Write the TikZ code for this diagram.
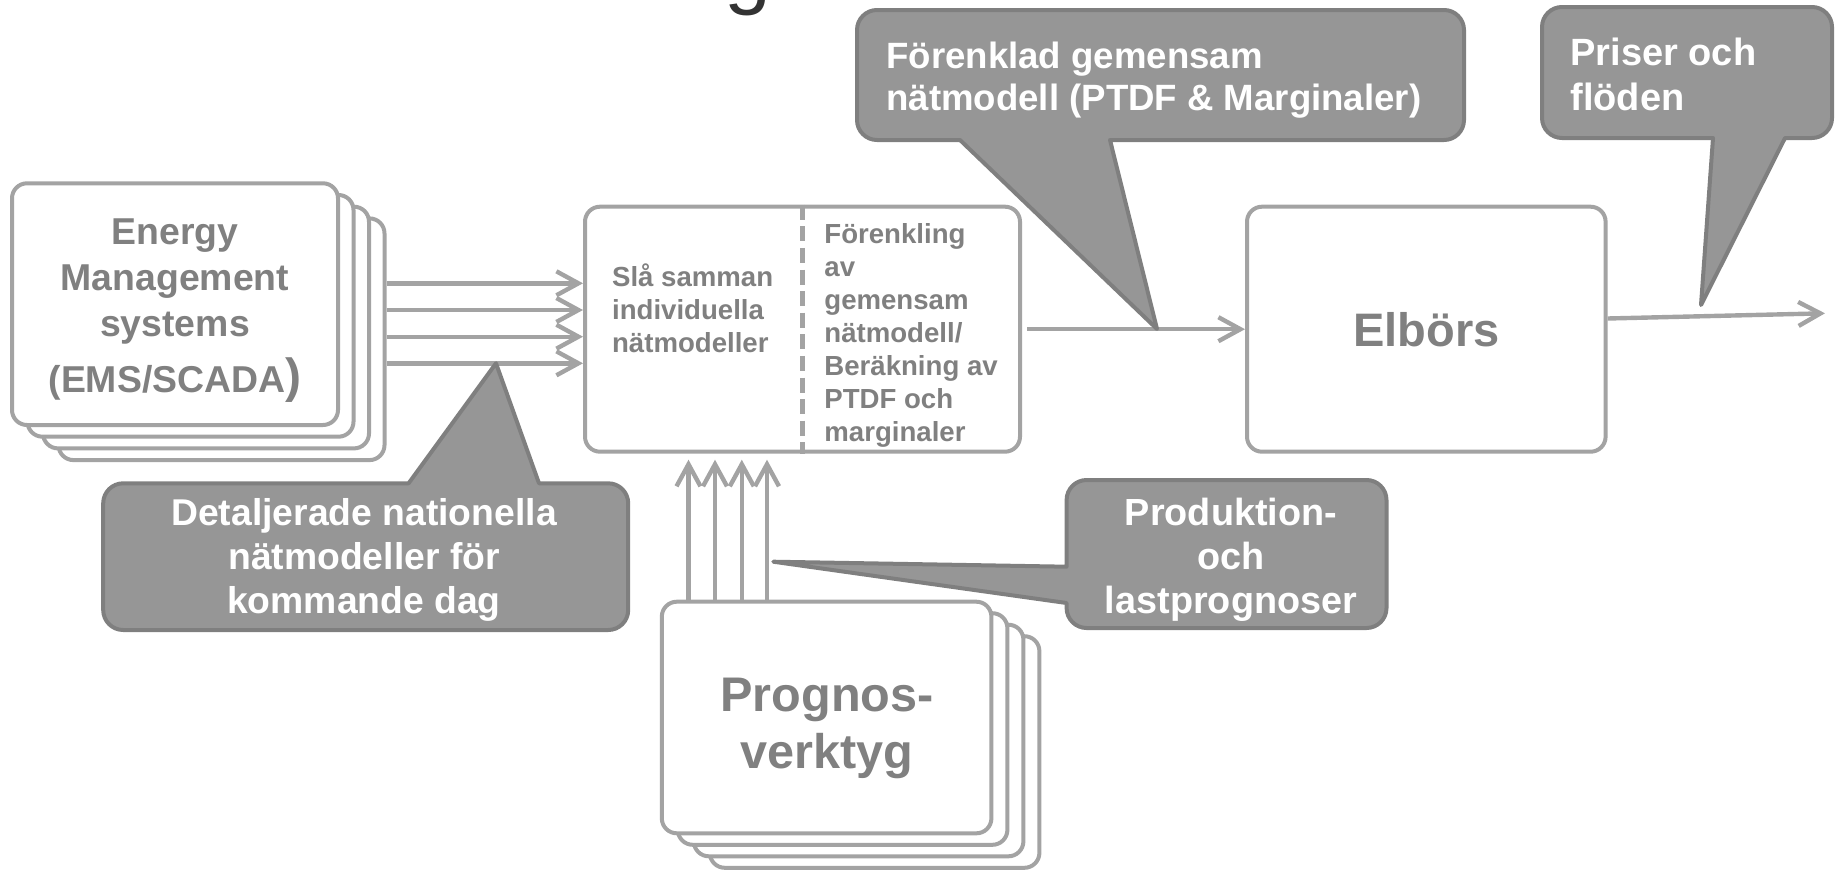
\documentclass[tikz,border=0pt]{standalone}
\usepackage{fontspec}
\setmainfont{Liberation Sans}
\usetikzlibrary{arrows.meta}
\definecolor{boxgray}{RGB}{163,163,163}
\definecolor{txtgray}{RGB}{128,128,128}
\definecolor{callfill}{RGB}{150,150,150}
\definecolor{callline}{RGB}{127,127,127}
\definecolor{titleblack}{RGB}{51,51,51}
\newcommand\setfs[2]{\fontsize{#1}{#2}\selectfont}
\begin{document}
\begin{tikzpicture}[x=0.5pt,y=-0.5pt,
  box/.style={draw=boxgray, line width=2pt, rounded corners=7.5pt, fill=white, inner sep=0pt},
  sz/.style 2 args={minimum width=#1*0.5pt, minimum height=#2*0.5pt},
  arr/.style={draw=boxgray, line width=2.2pt, -{Straight Barb[length=11pt,width=12pt]}},
  call/.style={fill=callfill, draw=callline, line width=2pt, line join=round},
  btxt/.style={text=txtgray, inner sep=0pt},
  ctxt/.style={text=white, inner sep=0pt},
]
\useasboundingbox (0,0) rectangle (1837,873);

% heading (only its descender falls inside the page)
\node[text=titleblack, font=\setfs{42}{50}, anchor=base west, inner sep=0pt] (title) at (724,-1.5) {g};

% stacked EMS/SCADA boxes
\foreach \k in {3,2,1}
  \node[box, sz={326}{241.7}] (ems\k) at ({175+15.5*\k},{304.15+11.7*\k}) {};
\node[box, sz={326}{241.7}] (ems) at (175,304.15) {};
\node[btxt, font=\bfseries\setfs{18.7}{23}, align=center] (emstext) at (175,308.8)
  {\strut Energy\\Management\\systems\\[5pt](EMS/SCADA{\setfs{24}{23})}\strut};

% merging / simplification box
\node[box, sz={435}{245}] (mid) at (802.5,329.2) {};
\draw[draw=boxgray, line width=2.3pt, dash pattern=on 7.5pt off 3.3pt] (mid.north) -- (mid.south);
\node[btxt, font=\bfseries\setfs{13.8}{16.5}, align=left, anchor=west] (midL) at (611.7,313.1)
  {\strut Slå samman\\individuella\\nätmodeller\strut};
\node[btxt, font=\bfseries\setfs{13.8}{16.5}, align=left, anchor=west] (midR) at (824,335.7)
  {\strut Förenkling\\av\\gemensam\\nätmodell/\\Beräkning av\\PTDF och\\marginaler\strut};

% power exchange
\node[box, sz={358.6}{245}] (elb) at (1426.3,329.2) {};
\node[btxt, font=\bfseries\setfs{23.5}{28}, anchor=base] (elbtext) at (1426.5,346.7) {Elbörs};

% stacked forecasting tools
\foreach \k in {3,2,1}
  \node[box, sz={329.6}{231.6}] (prog\k) at ({826.6+16*\k},{717.5+11.5*\k}) {};
\node[box, sz={329.6}{231.6}] (prog) at (826.6,717.5) {};
\node[btxt, font=\bfseries\setfs{24.3}{28.3}, align=center] (progtext) at (827,728.5)
  {\strut Prognos-\\verktyg\strut};

% data flows
\foreach \y in {283.3,310,336.7,363.3}
  \draw[arr] (ems3.east |- 0,\y) -- (mid.west |- 0,\y);
\coordinate (midbot) at ([yshift=-3pt]mid.south);
\foreach \x in {688.5,715,741.8,767}
  \draw[arr] (prog.north -| \x,0) -- (midbot -| \x,0);
\draw[arr] ([xshift=2.5pt]mid.east) -- (elb.west);
\coordinate (out) at (1825,313.3);
\draw[arr] (elb.east |- 0,318.5) -- (out);

% callouts
\draw[call] (960,140) -- (1157,329) -- (1110,140) -- (1444,140)
  arc[start angle=-90,end angle=0,radius=10pt] -- (1464,30)
  arc[start angle=0,end angle=90,radius=10pt] -- (877,10)
  arc[start angle=90,end angle=180,radius=10pt] -- (857,120)
  arc[start angle=180,end angle=270,radius=10pt] -- cycle;
\node[ctxt, font=\bfseries\setfs{18.3}{21}, align=left, anchor=west] (modeltext) at (886,80.6)
  {\strut Förenklad gemensam\\nätmodell (PTDF \& Marginaler)\strut};

\draw[call] (1713,138) -- (1701,305) -- (1785,138) -- (1812,138)
  arc[start angle=-90,end angle=0,radius=10pt] -- (1832,27)
  arc[start angle=0,end angle=90,radius=10pt] -- (1562,7)
  arc[start angle=90,end angle=180,radius=10pt] -- (1542,118)
  arc[start angle=180,end angle=270,radius=10pt] -- cycle;
\node[ctxt, font=\bfseries\setfs{19}{22.5}, align=left, anchor=west] (pricetext) at (1570,78.5)
  {\strut Priser och\\flöden\strut};

\draw[call] (539,483.3) -- (496,363.3) -- (408.6,483.3) -- (123.2,483.3)
  arc[start angle=90,end angle=180,radius=10pt] -- (103.2,610)
  arc[start angle=180,end angle=270,radius=10pt] -- (608.2,630)
  arc[start angle=270,end angle=360,radius=10pt] -- (628.2,503.3)
  arc[start angle=0,end angle=90,radius=10pt] -- cycle;
\node[ctxt, font=\bfseries\setfs{18.65}{22}, align=center] (detailtext) at (364,560.2)
  {\strut Detaljerade nationella\\nätmodeller för\\kommande dag\strut};

\draw[call] (1066.6,566.7) -- (773.3,561.7) -- (1066.6,603) -- (1066.6,608)
  arc[start angle=180,end angle=270,radius=10pt] -- (1366.5,628)
  arc[start angle=270,end angle=360,radius=10pt] -- (1386.5,500)
  arc[start angle=0,end angle=90,radius=10pt] -- (1086.6,480)
  arc[start angle=90,end angle=180,radius=10pt] -- cycle;
\node[ctxt, font=\bfseries\setfs{18.9}{22}, align=center] (forecasttext) at (1231,560.2)
  {\strut Produktion-\\och\\lastprognoser\strut};
\end{tikzpicture}
\end{document}
